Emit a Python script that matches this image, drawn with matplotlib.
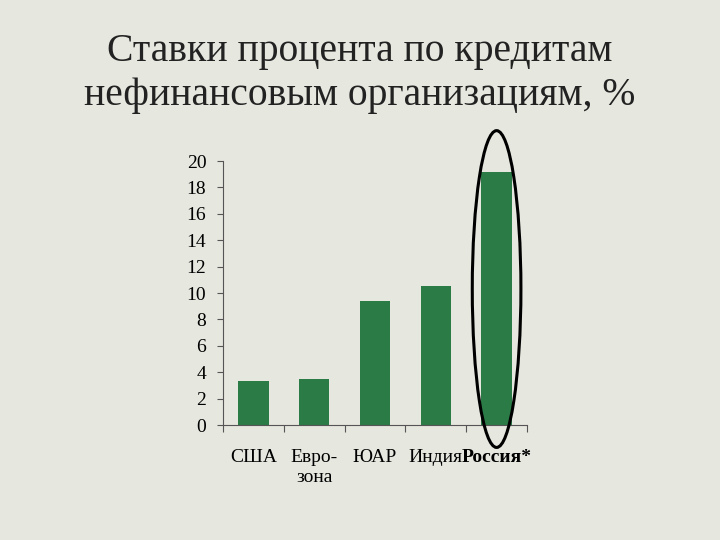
import matplotlib.pyplot as plt
from matplotlib.patches import Ellipse

# Data
categories = ['США', 'Евро-\nзона', 'ЮАР', 'Индия', 'Россия*']
rates = [3.3, 3.5, 9.4, 10.5, 19.2]
y_ticks = [0, 2, 4, 6, 8, 10, 12, 14, 16, 18, 20]

bg = '#e6e7df'
bar_color = '#2b7b47'

fig = plt.figure(figsize=(7.2, 5.4), dpi=100, facecolor=bg)
ax = fig.add_axes([223 / 720, 1 - 425 / 540, 304 / 720, 264 / 540])
ax.set_facecolor(bg)

x = list(range(len(categories)))
ax.bar(x, rates, width=0.5, color=bar_color, zorder=2)

ax.set_xlim(-0.5, len(categories) - 0.5)
ax.set_ylim(0, 20)
ax.set_yticks(y_ticks)
ax.set_yticklabels([str(v) for v in y_ticks], fontsize=14, family='Liberation Serif')

# category boundaries as tick marks, labels at centres
ax.set_xticks([i - 0.5 for i in range(len(categories) + 1)])
ax.set_xticklabels([])
ax.set_xticks(x, minor=True)
ax.set_xticklabels(categories, minor=True, fontsize=14, family='Liberation Serif', va='top')
ax.tick_params(axis='x', which='minor', length=0, pad=17)
ax.tick_params(axis='x', which='major', direction='out', length=5, color='#555555')
ax.tick_params(axis='y', direction='out', length=4, color='#555555', pad=8)
for lbl in ax.get_xticklabels(minor=True):
    lbl.set_linespacing(1.25)
    if lbl.get_text().startswith('Россия'):
        lbl.set_fontweight('bold')

for s in ['top', 'right']:
    ax.spines[s].set_visible(False)
ax.spines['left'].set_color('#555555')
ax.spines['bottom'].set_color('#555555')

# highlight Russia
ell = Ellipse((4, 10.3), 0.8, 24.0, fill=False, edgecolor='black', lw=2.2, clip_on=False, zorder=3)
ax.add_patch(ell)

fig.text(0.5, 1 - 74 / 540, 'Ставки процента по кредитам\nнефинансовым организациям, %',
         ha='center', va='center', fontsize=28.5, family='Liberation Serif', color='#222222',
         linespacing=1.25)

fig.savefig('out.png', dpi=100, facecolor=bg)
